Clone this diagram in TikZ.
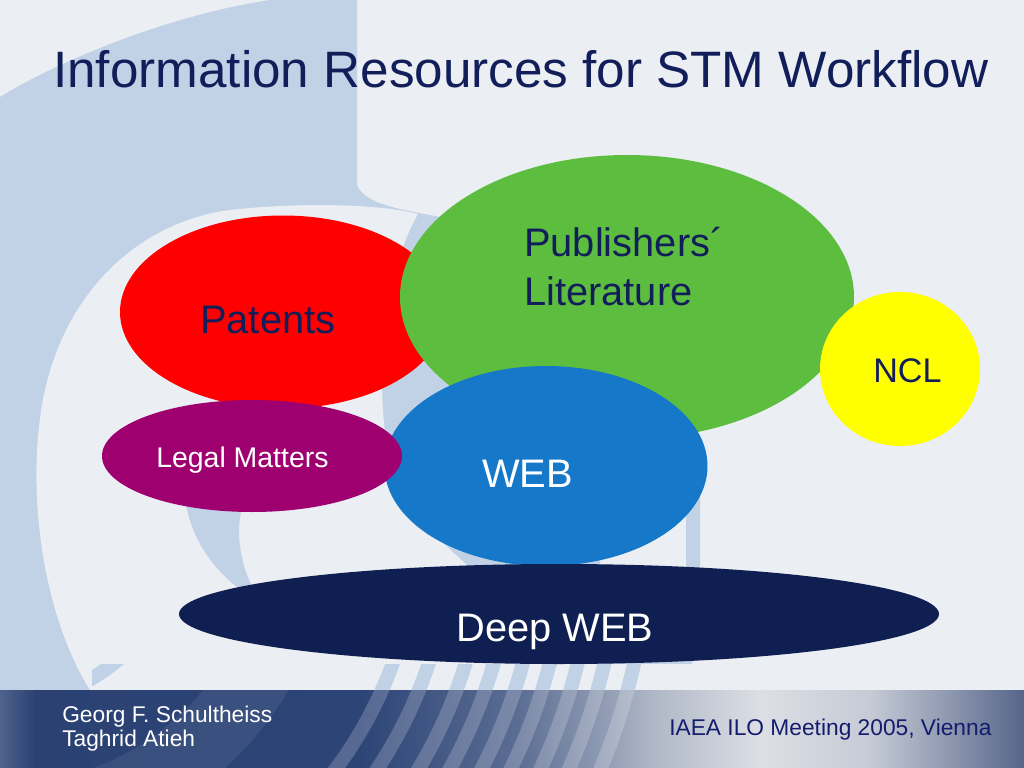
\documentclass[tikz,border=0pt]{standalone}
\usepackage{fontspec}
\setmainfont{Liberation Sans}
\usetikzlibrary{shapes.geometric}
\definecolor{bgc}{HTML}{EBEEF2}
\definecolor{pale}{HTML}{C1D2E7}
\definecolor{navy}{HTML}{111E5A}
\definecolor{meetc}{HTML}{141C6E}
\definecolor{cred}{HTML}{FF0000}
\definecolor{cgreen}{HTML}{5DBD3E}
\definecolor{cblue}{HTML}{1578C8}
\definecolor{cpurple}{HTML}{9E0070}
\definecolor{cyellow}{HTML}{FFFF00}
\definecolor{cdeep}{HTML}{101F52}
\definecolor{fa}{HTML}{50628C}
\definecolor{fb}{HTML}{2A4172}
\definecolor{fc}{HTML}{2D4477}
\definecolor{fd}{HTML}{5C6E94}
\definecolor{fe}{HTML}{AEB6C6}
\definecolor{ff}{HTML}{DCDFE4}
\definecolor{fg}{HTML}{C5CAD5}
\definecolor{fh}{HTML}{8590AA}
\definecolor{fi}{HTML}{56658A}
\begin{document}
\begin{tikzpicture}[x=0.703125pt,y=-0.703125pt,
  blob/.style={ellipse, inner sep=0pt, draw=none},
  lbl/.style={anchor=base west, inner sep=0pt}]
\def\u{0.703125pt}
\useasboundingbox (0,0) rectangle (1024,768);
\fill[bgc] (0,0) rectangle (1024,768);
% logo: outer pale shape
\fill[pale] (0,97) .. controls (60,60) and (170,15) .. (270,0) -- (357,0) -- (357,185)
  .. controls (365,205) and (400,210) .. (470,222) -- (600,330) -- (700,480) -- (700,566) -- (690,690) -- (0,690) -- cycle;
% logo: light area right of the WEB ellipse
\fill[bgc] (600,470) rectangle (686,570);
% logo: inner light shape
\fill[bgc] (418,214) .. controls (380,204) and (300,202) .. (230,210)
  .. controls (150,220) and (70,280) .. (45,390)
  .. controls (25,480) and (40,610) .. (90,690) -- (560,690) -- (560,580) -- (480,575)
  .. controls (440,545) and (400,500) .. (390,460)
  .. controls (375,400) and (380,280) .. (418,214) -- cycle;
% logo: crescent
\fill[pale] (186,505) .. controls (195,550) and (222,580) .. (262,605)
  .. controls (243,575) and (234,540) .. (242,507) -- cycle;
% logo: stripes above footer
\begin{scope}
\clip (92,664) rectangle (700,690);
\fill[bgc] (92,664) rectangle (700,690);
\foreach \r in {183,418,452,487,514,542,568,595,621,650}
  \draw[pale, line width=14*\u] (0,520) circle[radius=\r];
\end{scope}
% footer band
\shade[left color=fa, right color=fb] (0,690) rectangle (36,768);
\shade[left color=fb, right color=fc] (35,690) rectangle (361,768);
\shade[left color=fc, right color=fd] (360,690) rectangle (521,768);
\shade[left color=fd, right color=fe] (520,690) rectangle (651,768);
\shade[left color=fe, right color=ff] (650,690) rectangle (761,768);
\shade[left color=ff, right color=fg] (760,690) rectangle (871,768);
\shade[left color=fg, right color=fh] (870,690) rectangle (961,768);
\shade[left color=fh, right color=fi] (960,690) rectangle (1024,768);
\begin{scope}
\clip (0,690) rectangle (1024,768);
\draw[white, opacity=0.07, line width=70*\u] (0,520) circle[radius=300];
\foreach \r in {418,452,487,514,542,568,595,621,650}
  \draw[white, opacity=0.2, line width=14*\u] (0,520) circle[radius=\r];
\end{scope}
% resource ellipses
\node[blob, fill=cred, minimum width=326*\u, minimum height=193*\u] (patents) at (283,312) {};
\node[blob, fill=cgreen, minimum width=454*\u, minimum height=284*\u] (publ) at (627,297) {};
\node[blob, fill=cyellow, minimum width=160*\u, minimum height=154*\u] (ncl) at (900,369) {};
\node[blob, fill=cblue, minimum width=323*\u, minimum height=200*\u] (web) at (546,466) {};
\node[blob, fill=cpurple, minimum width=300*\u, minimum height=112*\u] (legal) at (252,456) {};
\node[blob, fill=cdeep, minimum width=760*\u, minimum height=100*\u] (deep) at (559,614) {};
% texts
\node[lbl, font=\fontsize{36}{43}\selectfont, text=navy] (title) at (53,88) {Information Resources for STM Workflow};
\node[lbl, font=\fontsize{28}{34}\selectfont, text=navy] (tpat) at (200,333) {Patents};
\node[lbl, font=\fontsize{28}{34}\selectfont, text=navy] (tpub) at (524,257) {Publishers´};
\node[lbl, font=\fontsize{28}{34}\selectfont, text=navy] (tlit) at (524,305) {Literature};
\node[lbl, font=\fontsize{24}{29}\selectfont, text=navy] (tncl) at (873,382) {NCL};
\node[lbl, font=\fontsize{20}{24}\selectfont, text=white] (tlegal) at (156,467) {Legal Matters};
\node[lbl, font=\fontsize{28}{34}\selectfont, text=white] (tweb) at (482,487) {WEB};
\node[lbl, font=\fontsize{28}{34}\selectfont, text=white] (tdeep) at (456,641) {Deep WEB};
\node[lbl, font=\fontsize{16}{19}\selectfont, text=white] (auth1) at (62,722) {Georg F. Schultheiss};
\node[lbl, font=\fontsize{16}{19}\selectfont, text=white] (auth2) at (62,746) {Taghrid Atieh};
\node[lbl, font=\fontsize{16}{19}\selectfont, text=meetc] (meet) at (669,735) {IAEA ILO Meeting 2005, Vienna};
\end{tikzpicture}
\end{document}
